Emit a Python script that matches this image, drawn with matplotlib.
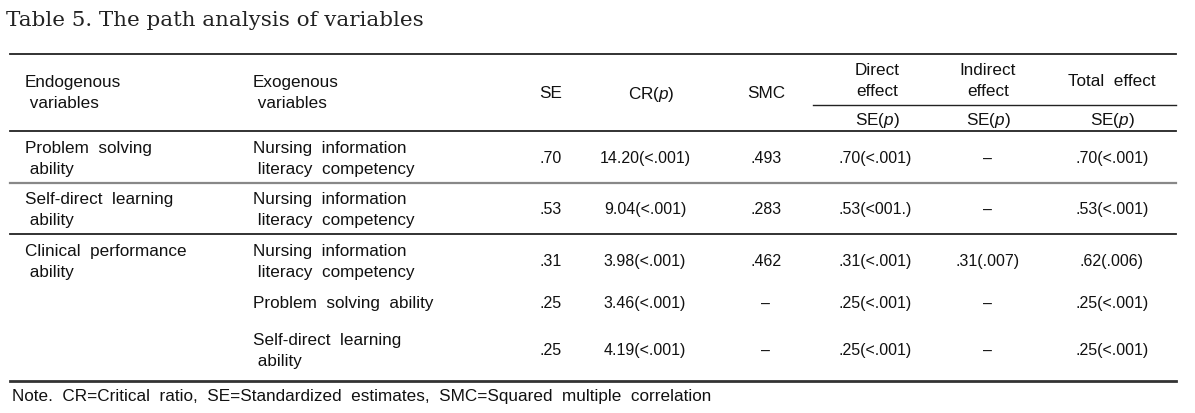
import matplotlib
matplotlib.use("Agg")
import matplotlib.pyplot as plt

plt.rcParams['font.family'] = ['Liberation Sans', 'DejaVu Sans']
plt.rcParams['mathtext.fontset'] = 'custom'
plt.rcParams['mathtext.rm'] = 'Liberation Sans'
plt.rcParams['mathtext.it'] = 'Liberation Sans:italic'

title = "Table 5. The path analysis of variables"
note = "Note. CR=Critical ratio, SE=Standardized estimates, SMC=Squared multiple correlation"

col_headers = ["SE", r"CR($\mathit{p}$)", "SMC"]
effect_headers = ["Direct\neffect", "Indirect\neffect", "Total effect"]
effect_sub = r"SE($\mathit{p}$)"

endogenous = ["Problem solving\n ability", "Self-direct learning\n ability",
              "Clinical performance\n ability", "", ""]
exogenous = ["Nursing information\n literacy competency",
             "Nursing information\n literacy competency",
             "Nursing information\n literacy competency",
             "Problem solving ability",
             "Self-direct learning\n ability"]
se = [".70", ".53", ".31", ".25", ".25"]
cr = ["14.20(<.001)", "9.04(<.001)", "3.98(<.001)", "3.46(<.001)", "4.19(<.001)"]
smc = [".493", ".283", ".462", "\u2013", "\u2013"]
direct = [".70(<.001)", ".53(<001.)", ".31(<.001)", ".25(<.001)", ".25(<.001)"]
indirect = ["\u2013", "\u2013", ".31(.007)", "\u2013", "\u2013"]
total = [".70(<.001)", ".53(<.001)", ".62(.006)", ".25(<.001)", ".25(<.001)"]


def wide(s):
    # widen the gaps between words (keep a single leading indent space)
    return "\n".join((ln[0] + ln[1:].replace(" ", "  ")) if ln else ln
                     for ln in s.split("\n"))


W, H = 1195, 414
fig = plt.figure(figsize=(W / 100, H / 100), dpi=100)
ax = fig.add_axes([0, 0, 1, 1])
ax.set_xlim(0, W)
ax.set_ylim(H, 0)
ax.axis('off')

fs = 12.3      # labels
fn = 11.5      # numbers
ls = 1.5
x0, x1 = 10, 1176
txt = '#111111'

# title
ax.text(6, 20, title, fontsize=15.4, family='DejaVu Serif', va='center', ha='left', color='#222222')

# rules
ax.plot([x0, x1], [55, 55], color='#222222', lw=1.3)
ax.plot([813, x1], [106, 106], color='#222222', lw=1.0)
ax.plot([x0, x1], [132, 132], color='#222222', lw=1.3)
ax.plot([x0, x1], [184, 184], color='#888888', lw=1.6)
ax.plot([x0, x1], [235, 235], color='#222222', lw=1.3)
ax.plot([x0, x1], [382, 382], color='#333333', lw=2.0)

# header
ax.text(25, 93, wide("Endogenous\n variables"), fontsize=fs, va='center', ha='left', linespacing=ls, color=txt)
ax.text(253, 93, wide("Exogenous\n variables"), fontsize=fs, va='center', ha='left', linespacing=ls, color=txt)
col_x = [551, 651, 766]
for x, h in zip(col_x, col_headers):
    ax.text(x, 94, h, fontsize=fs, va='center', ha='center', color=txt)
eff_x = [877, 988, 1112]
for x, h in zip(eff_x, effect_headers):
    ax.text(x, 81, wide(h), fontsize=fs, va='center', ha='center', linespacing=ls, color=txt)
    ax.text(x, 121, effect_sub, fontsize=fs, va='center', ha='center', color=txt)

# body
val_x = [551, 645, 766, 875, 988, 1112]
row_y = [159, 210, 262, 304, 351]
for i, y in enumerate(row_y):
    if endogenous[i]:
        ax.text(25, y, wide(endogenous[i]), fontsize=fs, va='center', ha='left', linespacing=ls, color=txt)
    ax.text(253, y, wide(exogenous[i]), fontsize=fs, va='center', ha='left', linespacing=ls, color=txt)
    for x, v in zip(val_x, [se[i], cr[i], smc[i], direct[i], indirect[i], total[i]]):
        ax.text(x, y, v, fontsize=fn, va='center', ha='center', color=txt)

ax.text(12, 397, wide(note), fontsize=fs, va='center', ha='left', color=txt)

fig.savefig("out.png", dpi=100)
